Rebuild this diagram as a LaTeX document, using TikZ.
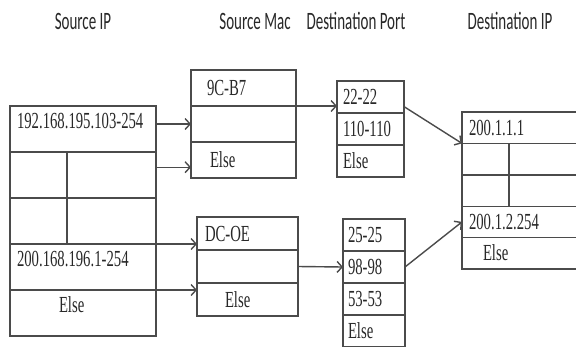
\documentclass[tikz,border=0pt]{standalone}
\usepackage{fontspec}
\usepackage{tikz}
\usetikzlibrary{positioning, arrows.meta, calc}
\newfontfamily\cellfont[FakeStretch=0.64]{Liberation Serif}
\newfontfamily\headfont[FakeStretch=0.6]{Carlito}
\definecolor{linec}{RGB}{75,75,75}
\definecolor{textc}{RGB}{40,40,40}
\tikzset{
  cell/.style={
    rectangle, draw=linec, line width=1.4pt, outer sep=0pt,
    inner ysep=0pt, align=left, text=textc,
    font=\fontsize{23}{23}\selectfont\cellfont, text height=15pt, text depth=0pt
  },
  sipcell/.style={cell, text width=132pt, inner xsep=7pt, minimum height=46pt, text depth=16pt},
  mtcell/.style={cell, text width=73pt, inner xsep=16pt, minimum height=36pt},
  mbcell/.style={cell, text width=85pt, inner xsep=8pt, minimum height=33pt},
  ptcell/.style={cell, text width=55pt, inner xsep=6pt, minimum height=32pt},
  pbcell/.style={cell, text width=52pt, inner xsep=5pt, minimum height=32pt},
  dipcell/.style={cell, text width=116pt, inner xsep=7pt, minimum height=31.4pt},
  heading/.style={font=\fontsize{25}{25}\selectfont\headfont, text=textc, inner sep=0pt},
  link/.style={draw=linec, line width=1.4pt, -{Straight Barb[length=5pt,width=11pt]}},
  plain/.style={draw=linec, line width=1.4pt},
}

\begin{document}
\begin{tikzpicture}[x=1pt, y=1pt]
  \useasboundingbox (0,0) rectangle (576,-346);

  % column headings
  \node[heading] (hsip) at (83,-21) {Source IP};
  \node[heading] (hmac) at (255,-21) {Source Mac};
  \node[heading] (hport) at (356,-21) {Destination Port};
  \node[heading] (hdip) at (510,-21) {Destination IP};

  % source IP table
  \node[sipcell, anchor=north west] (sip1) at (10,-106) {192.168.195.103-254};
  \node[sipcell, below=0pt of sip1] (sip2) {};
  \node[sipcell, below=0pt of sip2] (sip3) {};
  \node[sipcell, below=0pt of sip3] (sip4) {200.168.196.1-254};
  \node[sipcell, below=0pt of sip4] (sip5) {\hspace*{42pt}Else};
  \draw[plain] ($(sip2.north west)!0.39!(sip2.north east)$) -- ($(sip3.south west)!0.39!(sip3.south east)$);

  % source mac tables
  \node[mtcell, anchor=north west] (mt1) at (191,-70) {9C-B7};
  \node[mtcell, below=0pt of mt1] (mt2) {};
  \node[mtcell, below=0pt of mt2] (mt3) {\hspace*{3pt}Else};
  \node[mbcell, anchor=north west] (mb1) at (197,-217) {DC-OE};
  \node[mbcell, below=0pt of mb1] (mb2) {};
  \node[mbcell, below=0pt of mb2] (mb3) {\hspace*{20pt}Else};

  % destination port tables
  \node[ptcell, anchor=north west] (pt1) at (337,-81) {22-22};
  \node[ptcell, below=0pt of pt1] (pt2) {110-110};
  \node[ptcell, below=0pt of pt2] (pt3) {Else};
  \node[pbcell, anchor=north west] (pb1) at (343,-219) {25-25};
  \node[pbcell, below=0pt of pb1] (pb2) {98-98};
  \node[pbcell, below=0pt of pb2] (pb3) {53-53};
  \node[pbcell, below=0pt of pb3] (pb4) {Else};

  % destination IP table
  \node[dipcell, anchor=north west] (dip1) at (462,-112) {200.1.1.1};
  \node[dipcell, below=0pt of dip1] (dip2) {};
  \node[dipcell, below=0pt of dip2] (dip3) {};
  \node[dipcell, below=0pt of dip3] (dip4) {200.1.2.254};
  \node[dipcell, below=0pt of dip4] (dip5) {\hspace*{14pt}Else};
  \draw[plain] ($(dip2.north west)!0.36!(dip2.north east)$) -- ($(dip3.south west)!0.36!(dip3.south east)$);

  % source IP -> source mac
  \coordinate (a2) at ($(mt3.west)!0.4!(mt3.south west)$);
  \draw[link] (sip1.east |- mt2.west) -- (mt2.west);
  \draw[link] (sip2.east |- a2) -- (a2);
  \draw[link] (sip4.north east) -- (sip4.north east -| mb1.west);
  \draw[link] (sip5.north east) -- (sip5.north east -| mb3.west);

  % source mac -> destination port
  \draw[link] (mt2.north east) -- (mt2.north east -| pt1.west);
  \draw[link] (mb2.east) -- (pb2.west);

  % destination port -> destination IP
  \draw[link] ($(pt1.east)!0.6!(pt1.south east)$) -- (dip2.north west);
  \draw[link] (pb2.east) -- (dip4.west);
\end{tikzpicture}
\end{document}
